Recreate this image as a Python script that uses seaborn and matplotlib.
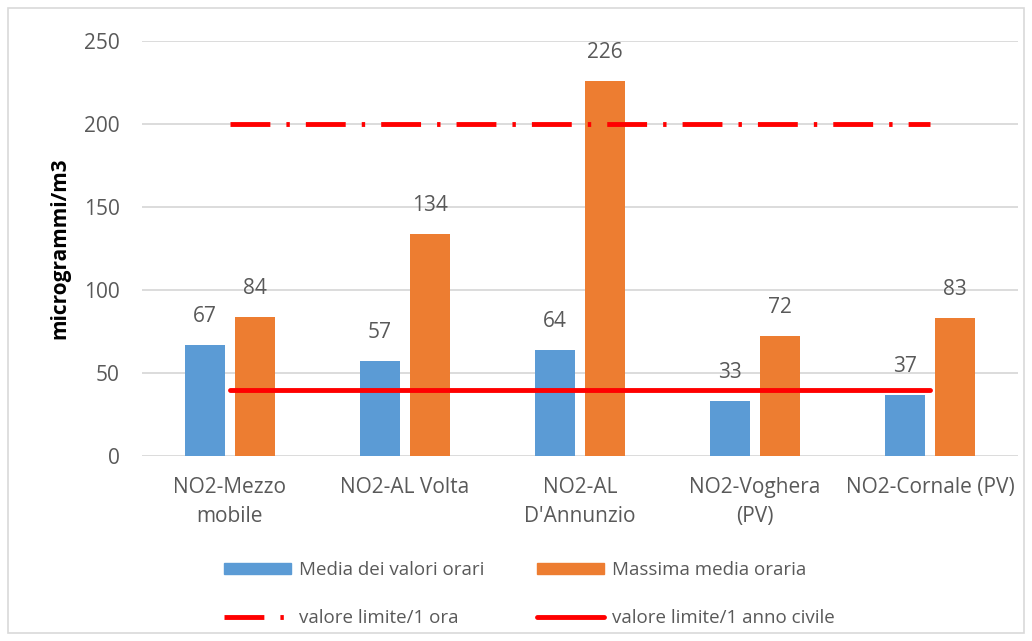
import pandas as pd
import seaborn as sns
import matplotlib.pyplot as plt
from matplotlib.lines import Line2D
from matplotlib.patches import Patch, Rectangle

# dati
stazioni = ["NO2-Mezzo\nmobile", "NO2-AL Volta", "NO2-AL\nD'Annunzio",
            "NO2-Voghera\n(PV)", "NO2-Cornale (PV)"]
media_orari = [67, 57, 64, 33, 37]
massima_oraria = [84, 134, 226, 72, 83]
serie = ["Media dei valori orari", "Massima media oraria"]
limite_ora = 200
limite_anno = 40

df = pd.DataFrame({
    "stazione": stazioni * 2,
    "valore": media_orari + massima_oraria,
    "serie": [serie[0]] * len(stazioni) + [serie[1]] * len(stazioni),
})

sns.set_style("white")
plt.rcParams["font.family"] = ["Open Sans", "DejaVu Sans"]

fig = plt.figure(figsize=(10.32, 6.41), dpi=100)
ax = fig.add_axes([0.1376, 0.2886, 0.8488, 0.6474])

colori = ["#5B9BD5", "#ED7D31"]
sns.barplot(data=df, x="stazione", y="valore", hue="serie", palette=colori,
            saturation=1, width=0.57, gap=0.2, linewidth=0, ax=ax, legend=False)

# etichette dei valori
grigio = "#595959"
for cont in ax.containers:
    ax.bar_label(cont, padding=13, fontsize=15, color=grigio)

# linee dei limiti
tratteggio = (8.2, 3.3, 0.7, 3.3)
xs = list(range(len(stazioni)))
ax.plot(xs[::len(xs) - 1], [limite_ora] * 2, color="red", lw=3.5,
        dashes=tratteggio, dash_capstyle="butt")
ax.plot(xs[::len(xs) - 1], [limite_anno] * 2, color="red", lw=3.5)

ax.set_ylim(0, 250)
ax.set_xlim(-0.5, len(stazioni) - 0.5)
ax.set_yticks(range(0, 251, 50))
ax.grid(axis="y", color="#D9D9D9", lw=1.3)
ax.set_axisbelow(True)
for s in ax.spines.values():
    s.set_visible(False)
ax.tick_params(axis="both", length=0, labelsize=15, colors=grigio)
ax.tick_params(axis="x", pad=15)
ax.tick_params(axis="y", pad=16)
for t in ax.get_xticklabels():
    t.set_linespacing(1.5)
ax.set_xlabel("")
ax.set_ylabel("microgrammi/m3", fontsize=15, fontweight="bold", color="black", labelpad=10)

handles = [
    Patch(color=colori[0], label=serie[0]),
    Line2D([], [], color="red", lw=3.5, dashes=tratteggio, label="valore limite/1 ora"),
    Patch(color=colori[1], label=serie[1]),
    Line2D([], [], color="red", lw=3.5, label="valore limite/1 anno civile"),
]
leg = fig.legend(handles=handles, ncol=2, loc="center", bbox_to_anchor=(0.513, 0.073),
                 frameon=False, fontsize=13.5, handlelength=3.57, handleheight=0.59,
                 columnspacing=2.8, labelspacing=1.6, handletextpad=0.43)
for t in leg.get_texts():
    t.set_color(grigio)

# cornice esterna
fig.patches.append(Rectangle((0.008, 0.012), 0.984, 0.976, transform=fig.transFigure,
                             fill=False, edgecolor="#D9D9D9", lw=1.2))

fig.savefig("out.png", dpi=100)
